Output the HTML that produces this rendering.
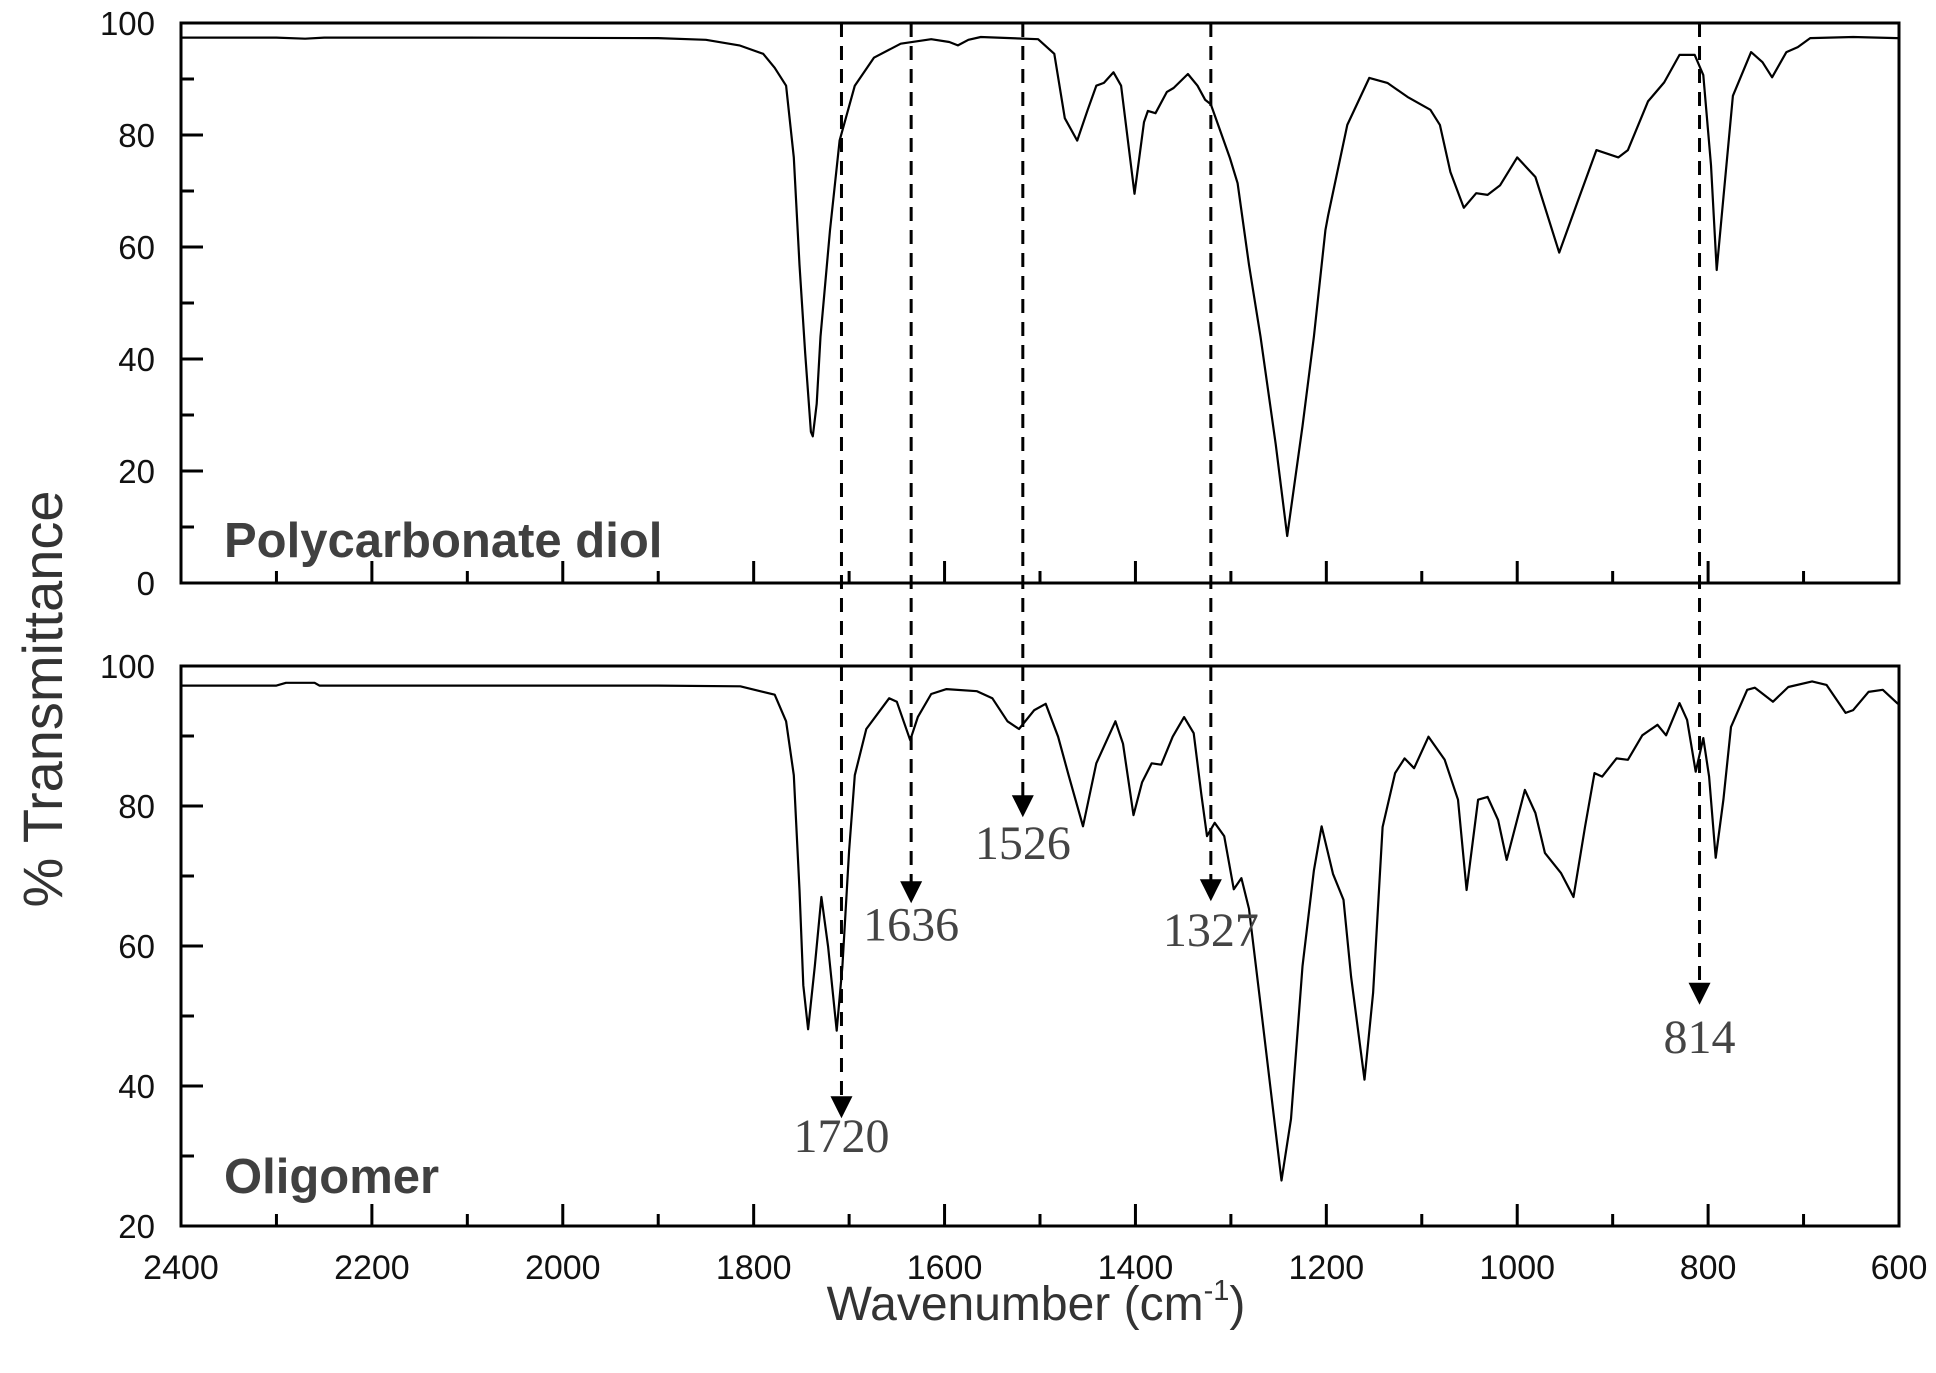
<!DOCTYPE html>
<html>
<head>
<meta charset="utf-8">
<style>
html,body{margin:0;padding:0;background:#fff;}
svg{display:block;}
.tick{font-family:"Liberation Sans",sans-serif;fill:#111;}
.ann{font-family:"Liberation Serif",serif;fill:#444;font-size:48px;}
</style>
</head>
<body>
<svg id="chart" width="1936" height="1373" viewBox="0 0 1936 1373" xmlns="http://www.w3.org/2000/svg">
  <g id="axes"></g>
  <g id="series"></g>
  <g id="annots"></g>
  <text x="224" y="557" font-family="Liberation Sans, sans-serif" font-weight="bold" font-size="49" fill="#404040">Polycarbonate diol</text>
  <text x="224" y="1193" font-family="Liberation Sans, sans-serif" font-weight="bold" font-size="49" fill="#404040">Oligomer</text>
  <text x="1036" y="1320" text-anchor="middle" font-family="Liberation Sans, sans-serif" font-size="48" fill="#333">Wavenumber (cm<tspan font-size="29" dy="-20">-1</tspan><tspan dy="20">)</tspan></text>
  <text transform="translate(62,699) rotate(-90)" text-anchor="middle" font-family="Liberation Sans, sans-serif" font-size="56" fill="#333">% Transmittance</text>
</svg>
<script>
// ---- data ----
const topWavenumbers = [2400,2300,2270,2250,2100,1900,1850,1815,1790,1778,1766,1758,1752,1746,1740,1738,1734,1730,1720,1710,1694,1674,1646,1614,1595,1586,1575,1562,1502,1485,1474,1461,1450,1441,1433,1423,1415,1401,1391,1387,1379,1367,1360,1345,1335,1327,1321,1301,1293,1281,1269,1253,1241,1225,1213,1201,1198,1178,1155,1136,1115,1091,1081,1070,1056,1043,1031,1018,1000,981,956,937,917,894,884,863,846,830,814,805,797,791,784,774,755,743,733,718,706,693,648,602,600];
const topTransmittance = [97.4,97.4,97.2,97.4,97.4,97.3,97,96,94.5,92,88.8,76,56.8,41,27,26.2,32,44,63,79,88.8,93.8,96.3,97.1,96.6,96,97,97.5,97.1,94.5,83,79,84.5,88.8,89.3,91.2,88.8,69.5,82.3,84.3,83.9,87.7,88.4,90.9,88.8,86.3,85.5,75.9,71.4,56.8,44,24.8,8.4,28,44,63,65.7,81.8,90.2,89.3,86.8,84.5,81.8,73.4,67,69.6,69.3,71,76,72.5,59,68,77.3,76,77.3,86,89.4,94.3,94.3,90.7,74.6,55.9,68.8,87,94.8,93,90.3,94.8,95.7,97.3,97.5,97.3,97.3];
const botWavenumbers = [2400,2300,2290,2260,2255,1900,1814,1778,1766,1758,1752,1748,1743,1736,1729,1722,1713,1707,1700,1694,1682,1658,1650,1636,1628,1614,1598,1566,1550,1534,1522,1506,1494,1481,1470,1455,1441,1421,1413,1402,1393,1383,1373,1361,1349,1339,1331,1325,1317,1307,1297,1289,1281,1269,1257,1247,1237,1225,1213,1205,1193,1182,1174,1160,1151,1141,1128,1118,1108,1093,1076,1062,1053,1041,1031,1020,1011,992,981,971,954,941,929,919,911,896,884,869,853,844,830,822,813,805,799,792,784,776,759,751,732,716,691,676,656,648,632,617,602,600];
const botTransmittance = [97.2,97.2,97.6,97.6,97.2,97.2,97.1,95.9,92.1,84.4,68,54.4,48.1,57.1,67,59.9,47.9,57.1,73.6,84.4,91,95.4,94.9,89.4,92.7,96,96.7,96.4,95.4,92.1,91,93.7,94.6,89.9,84.4,77.1,86.1,92.1,88.9,78.7,83.4,86.1,85.9,89.9,92.7,90.4,81.7,75.7,77.6,75.7,68.1,69.7,65.3,51.7,38,26.5,35.3,57.1,70.8,77.1,70.3,66.6,55.6,40.9,53.3,77,84.7,86.8,85.4,89.9,86.6,80.9,68,80.9,81.3,78,72.3,82.3,79,73.3,70.4,67,77,84.7,84.2,86.8,86.6,90.1,91.6,90.1,94.7,92.3,84.9,89.7,84.2,72.6,80.9,91.3,96.6,96.9,94.9,97,97.8,97.3,93.3,93.7,96.3,96.6,94.7,94.5];
const xTickLabels = [2400,2200,2000,1800,1600,1400,1200,1000,800,600];
const topYTickLabels = [0,20,40,60,80,100];
const botYTickLabels = [20,40,60,80,100];
const markerWavenumbers = [1708,1635,1518,1321,809];
const markerLabels = ["1720","1636","1526","1327","814"];
const markerArrowT = [35.4,66.1,78.4,66.4,51.6];

// ---- scales ----
const X0=181, X1=1899;
function xs(w){ return X0 + (2400 - w) * (X1 - X0) / 1800; }
function yTop(t){ return 583 - t * (583 - 23) / 100; }
function yBot(t){ return 1226 - (t - 20) * (1226 - 666) / 80; }

const NS="http://www.w3.org/2000/svg";
function mk(tag, attrs, parent){
  const e=document.createElementNS(NS,tag);
  for(const k in attrs) e.setAttribute(k,attrs[k]);
  parent.appendChild(e); return e;
}
const axes=document.getElementById('axes');
const series=document.getElementById('series');
const annots=document.getElementById('annots');

function panel(name, yTopPx, yBotPx, yFn, yMin, yMax, yLabels){
  const r=mk('rect',{x:X0,y:yTopPx,width:X1-X0,height:yBotPx-yTopPx,fill:'none',stroke:'#000','stroke-width':3},axes);
  
  
  for(let w=2400; w>=600; w-=100){
    const major=(w%200===0);
    const t=mk('line',{x1:xs(w),x2:xs(w),y1:yBotPx,y2:yBotPx-(major?22:12),stroke:'#000','stroke-width':3},axes);
    
    
  }
  for(let v=yMin; v<=yMax; v+=10){
    const major=(v%20===0);
    const t=mk('line',{x1:X0,x2:X0+(major?22:13),y1:yFn(v),y2:yFn(v),stroke:'#000','stroke-width':3},axes);
    
    
  }
  yLabels.forEach(v=>{
    const t=mk('text',{x:155,y:yFn(v)+12,'text-anchor':'end','font-size':33,class:'tick'},axes);
    t.textContent=String(v);
    
    
  });
}
panel('top-panel',23,583,yTop,0,100,topYTickLabels);
panel('bottom-panel',666,1226,yBot,20,100,botYTickLabels);

xTickLabels.forEach(w=>{
  const t=mk('text',{x:xs(w),y:1279,'text-anchor':'middle','font-size':34,class:'tick'},axes);
  t.textContent=String(w);
  
  
});

function drawLine(ws, ts, yFn, name){
  let d='';
  ws.forEach((w,i)=>{ d+=(i?'L':'M')+xs(w).toFixed(1)+','+yFn(ts[i]).toFixed(1); });
  const p=mk('path',{d:d,fill:'none',stroke:'#000','stroke-width':2.2,'stroke-linejoin':'round'},series);
  
  
}
drawLine(topWavenumbers, topTransmittance, yTop, 'polycarbonate-diol-spectrum');
drawLine(botWavenumbers, botTransmittance, yBot, 'oligomer-spectrum');

const labelOffsets=[34,37,42,45,48];
markerWavenumbers.forEach((w,i)=>{
  const x=xs(w), tipY=yBot(markerArrowT[i]);
  const l=mk('line',{x1:x,x2:x,y1:23,y2:tipY-20,stroke:'#000','stroke-width':3,'stroke-dasharray':'14 9'},annots);
  
  
  const a=mk('polygon',{points:(x-11)+','+(tipY-22)+' '+(x+11)+','+(tipY-22)+' '+x+','+tipY,fill:'#000'},annots);
  
  
  const t=mk('text',{x:x,y:tipY+labelOffsets[i],'text-anchor':'middle',class:'ann'},annots);
  t.textContent=markerLabels[i];
  
  
});
</script>
</body>
</html>
